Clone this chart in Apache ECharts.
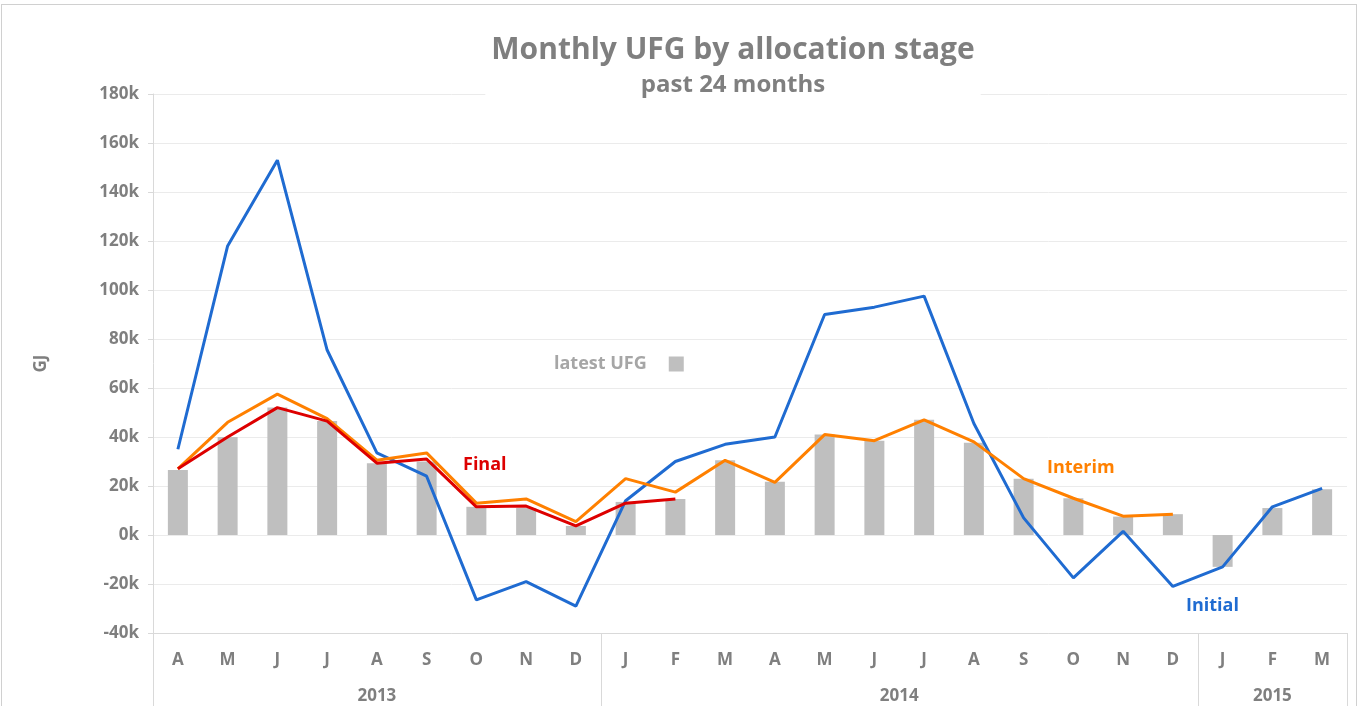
<!DOCTYPE html>
<html>
<head>
<meta charset="utf-8">
<script src="https://cdn.jsdelivr.net/npm/echarts@6/dist/echarts.min.js"></script>
<style>
  body { margin: 0; background: #fff; }
  #chart { width: 1359px; height: 706px; }
  #frame { position: absolute; left: 1px; top: 4px; width: 1354px; height: 710px; border: 1px solid #d0d0d0; pointer-events: none; }
</style>
</head>
<body>
<div id="chart"></div>
<div id="frame"></div>
<script>
// 月份标签 (Apr 2013 - Mar 2015)
const months = ['A', 'M', 'J', 'J', 'A', 'S', 'O', 'N', 'D', 'J', 'F', 'M', 'A', 'M', 'J', 'J', 'A', 'S', 'O', 'N', 'D', 'J', 'F', 'M']
const years = ['2013', '2014', '2015']
const yearMonthCount = [9, 12, 3]

// 数据 (GJ)
const latestUFG = [26500, 40000, 52000, 46500, 29300, 30000, 11500, 11000, 3700, 13500, 14700, 30500, 21700, 41000, 38500, 47000, 37700, 23000, 15000, 7500, 8500, -13000, 11000, 18700]
const initial = [35000, 118000, 153000, 75500, 33500, 24000, -26500, -19000, -29000, 14000, 30000, 37000, 40000, 90000, 93000, 97500, 45500, 7000, -17500, 1500, -21000, -13000, 11500, 19000]
const interim = [27000, 46000, 57500, 47500, 30500, 33500, 13000, 14700, 5500, 23000, 17500, 30500, 21500, 41000, 38500, 47000, 38000, 23000, 15000, 7700, 8500, null, null, null]
const final = [27000, 40000, 52000, 46500, 29300, 31000, 11500, 11800, 3700, 13000, 14700, null, null, null, null, null, null, null, null, null, null, null, null, null]

// 年份标签放在半格刻度上，分隔线在年份边界
const yearSlots = []
const yearBounds = [0]
let pos = 0
years.forEach((y, i) => {
  const n = yearMonthCount[i] * 2
  for (let k = 0; k < n; k++) {
    yearSlots.push(k === n / 2 ? y : '')
  }
  pos += n
  yearBounds.push(pos)
})
yearSlots.push('')

const gray = '#7f7f7f'
const chart = echarts.init(document.getElementById('chart'))
chart.setOption({
  textStyle: { fontFamily: 'Open Sans' },
  animation: false,
  title: {
    text: 'Monthly UFG by allocation stage',
    subtext: 'past 24 months',
    left: 727,
    top: 31,
    textAlign: 'center',
    itemGap: 8,
    backgroundColor: '#fff',
    padding: [4, 6, 4, 6],
    textStyle: { color: gray, fontSize: 30, fontWeight: 'bold' },
    subtextStyle: { color: gray, fontSize: 24, fontWeight: 'bold' }
  },
  legend: {
    data: ['latest UFG'],
    left: 549,
    top: 350,
    align: 'right',
    icon: 'rect',
    itemWidth: 15,
    itemHeight: 15,
    itemGap: 18,
    textStyle: { color: '#a6a6a6', fontSize: 18, fontWeight: 'bold', padding: [0, 17, 0, 0] }
  },
  grid: { left: 153, right: 12, top: 94, bottom: 73 },
  xAxis: [{
    type: 'category',
    data: months,
    axisLine: { onZero: false, lineStyle: { color: '#d9d9d9' } },
    axisTick: { show: false },
    axisLabel: { color: gray, fontSize: 17, fontWeight: 'bold', margin: 19 }
  }, {
    type: 'category',
    data: yearSlots,
    position: 'bottom',
    offset: 0,
    boundaryGap: false,
    axisLine: { show: false, onZero: false },
    axisTick: {
      show: true,
      length: 74,
      interval: (idx) => yearBounds.includes(idx),
      lineStyle: { color: '#d9d9d9' }
    },
    axisLabel: { interval: 0, color: gray, fontSize: 17, fontWeight: 'bold', margin: 55 }
  }],
  yAxis: {
    type: 'value',
    min: -40000,
    max: 180000,
    interval: 20000,
    name: 'GJ',
    nameLocation: 'middle',
    nameRotate: 90,
    nameGap: 103,
    nameTextStyle: { color: gray, fontSize: 17, fontWeight: 'bold' },
    axisLine: { show: true, lineStyle: { color: '#d9d9d9' } },
    axisTick: { show: true, length: 5, lineStyle: { color: '#d9d9d9' } },
    axisLabel: { color: gray, fontSize: 17, fontWeight: 'bold', margin: 14, formatter: (v) => v / 1000 + 'k' },
    splitLine: { lineStyle: { color: '#ebebeb' } }
  },
  series: [{
    name: 'latest UFG',
    type: 'bar',
    data: latestUFG,
    barWidth: 20,
    itemStyle: { color: '#bfbfbf' }
  }, {
    name: 'Initial',
    type: 'line',
    data: initial,
    showSymbol: false,
    lineStyle: { color: '#1f6bd1', width: 3 },
    itemStyle: { color: '#1f6bd1' }
  }, {
    name: 'Interim',
    type: 'line',
    data: interim,
    showSymbol: false,
    lineStyle: { color: '#ff8000', width: 3 },
    itemStyle: { color: '#ff8000' }
  }, {
    name: 'Final',
    type: 'line',
    data: final,
    showSymbol: false,
    lineStyle: { color: '#dd0000', width: 3 },
    itemStyle: { color: '#dd0000' }
  }],
  // 系列名称标注
  graphic: [
    { type: 'text', left: 463, top: 456, style: { text: 'Final', fill: '#dd0000', font: 'bold 18px "Open Sans"' } },
    { type: 'text', left: 1047, top: 459, style: { text: 'Interim', fill: '#ff8000', font: 'bold 18px "Open Sans"' } },
    { type: 'text', left: 1186, top: 597, style: { text: 'Initial', fill: '#1f6bd1', font: 'bold 18px "Open Sans"' } }
  ]
})
</script>
</body>
</html>
